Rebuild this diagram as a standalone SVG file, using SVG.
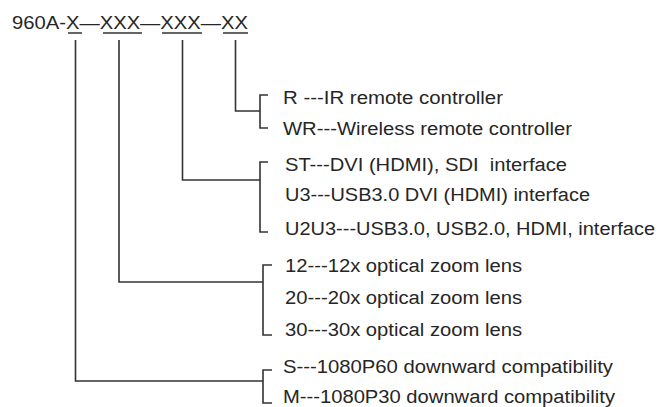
<svg xmlns="http://www.w3.org/2000/svg" width="662" height="407" viewBox="0 0 662 407">
<style>
text{font-family:"Liberation Sans",Arial,sans-serif;font-size:18px;fill:#262626}
.c{fill:none;stroke:#333;stroke-width:1.6}
</style>
<rect width="662" height="407" fill="#fff"/>
<g id="header">
<text x="12" y="29" textLength="236" lengthAdjust="spacingAndGlyphs">960A-X—XXX—XXX—XX</text>
<path class="c" d="M68 33H82M103 33H142M162 33H202M223 33H248"/>
</g>
<g id="connectors">
<path class="c" d="M75.5 40V381H263M119 40V282H263M182.5 40V180H260M235.5 40V111H260"/>
<path class="c" d="M268 95H260V128H268M268 162H260V232H268M272 265H263V335H272M272 370H263V403H272"/>
</g>
<g id="opt-R"><text x="283" y="104" textLength="220" lengthAdjust="spacingAndGlyphs">R ---IR remote controller</text></g>
<g id="opt-WR"><text x="283" y="135" textLength="289" lengthAdjust="spacingAndGlyphs">WR---Wireless remote controller</text></g>
<g id="opt-ST"><text x="285" y="171" textLength="282" lengthAdjust="spacingAndGlyphs" xml:space="preserve">ST---DVI (HDMI), SDI  interface</text></g>
<g id="opt-U3"><text x="285" y="201" textLength="305" lengthAdjust="spacingAndGlyphs">U3---USB3.0 DVI (HDMI) interface</text></g>
<g id="opt-U2U3"><text x="285" y="235" textLength="370" lengthAdjust="spacingAndGlyphs">U2U3---USB3.0, USB2.0, HDMI, interface</text></g>
<g id="opt-12"><text x="285" y="272" textLength="237" lengthAdjust="spacingAndGlyphs">12---12x optical zoom lens</text></g>
<g id="opt-20"><text x="285" y="304" textLength="237" lengthAdjust="spacingAndGlyphs">20---20x optical zoom lens</text></g>
<g id="opt-30"><text x="285" y="336" textLength="237" lengthAdjust="spacingAndGlyphs">30---30x optical zoom lens</text></g>
<g id="opt-S"><text x="283" y="373" textLength="330" lengthAdjust="spacingAndGlyphs">S---1080P60 downward compatibility</text></g>
<g id="opt-M"><text x="283" y="403" textLength="332" lengthAdjust="spacingAndGlyphs">M---1080P30 downward compatibility</text></g>
</svg>
